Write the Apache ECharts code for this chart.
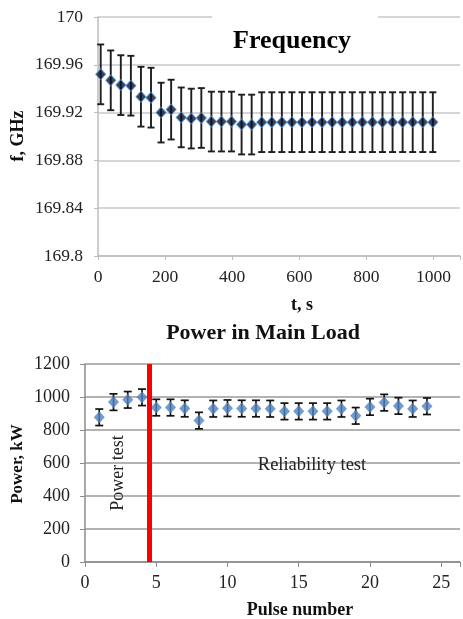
<!DOCTYPE html>
<html>
<head>
<meta charset="utf-8">
<script src="https://cdn.jsdelivr.net/npm/echarts@6/dist/echarts.min.js"></script>
<style>
html,body{margin:0;padding:0;background:#fff;}
#c{width:463px;height:619px;}
</style>
</head>
<body>
<div id="c"></div>
<script>
// ---- Frequency chart data ----
var times = [8,38,68,98,128,158,188,218,248,278,308,338,368,398,428,458,488,518,548,578,608,638,668,698,728,758,788,818,848,878,908,938,968,998];
var freq = [169.952,169.947,169.943,169.9425,169.9333,169.9325,169.920,169.9225,169.916,169.915,169.9155,169.9125,169.9125,169.9125,169.910,169.910,169.912,169.912,169.912,169.912,169.912,169.912,169.912,169.912,169.912,169.912,169.912,169.912,169.912,169.912,169.912,169.912,169.912,169.912];
var freqErr = [0.025,0.025,0.025,0.025,0.025,0.025,0.025,0.025,0.025,0.025,0.025,0.025,0.025,0.025,0.025,0.025,0.025,0.025,0.025,0.025,0.025,0.025,0.025,0.025,0.025,0.025,0.025,0.025,0.025,0.025,0.025,0.025,0.025,0.025];
var freqTicks = [169.8,169.84,169.88,169.92,169.96,170];
var timeTicks = [0,200,400,600,800,1000];

// ---- Power chart data ----
var pulses = [1,2,3,4,5,6,7,8,9,10,11,12,13,14,15,16,17,18,19,20,21,22,23,24];
var power = [877,969,983,998,936,936,930,857,929,932,930,930,929,913,913,913,913,929,886,940,966,946,929,944];
var powerErr = [50,50,50,50,50,50,50,50,50,50,50,50,50,50,50,50,50,50,50,50,50,50,50,50];
var powerTicks = [0,200,400,600,800,1000,1200];
var pulseTicks = [0,5,10,15,20,25];
var boundary = 4.5;

var serif = '"Liberation Serif","Times New Roman",serif';

function errData(xs, ys, es) {
  return xs.map(function (x, i) { return [x, ys[i] - es[i], ys[i] + es[i]]; });
}
function errRender(capW, color, lw) {
  return function (params, api) {
    var x = api.value(0), lo = api.value(1), hi = api.value(2);
    var pl = api.coord([x, lo]), ph = api.coord([x, hi]);
    var st = { stroke: color, lineWidth: lw };
    return { type: 'group', children: [
      { type: 'line', shape: { x1: pl[0], y1: pl[1], x2: ph[0], y2: ph[1] }, style: st },
      { type: 'line', shape: { x1: ph[0] - capW / 2, y1: ph[1], x2: ph[0] + capW / 2, y2: ph[1] }, style: st },
      { type: 'line', shape: { x1: pl[0] - capW / 2, y1: pl[1], x2: pl[0] + capW / 2, y2: pl[1] }, style: st }
    ]};
  };
}
function tickFmt(list) {
  return function (v) {
    for (var i = 0; i < list.length; i++) { if (Math.abs(list[i] - v) < 1e-6) return String(list[i]); }
    return '';
  };
}

var chart = echarts.init(document.getElementById('c'), null, { renderer: 'canvas' });
chart.setOption({
  animation: false,
  backgroundColor: '#fff',
  grid: [
    { left: 98, top: 17, width: 365, height: 239, containLabel: false },
    { left: 85, top: 364, width: 378, height: 198, containLabel: false }
  ],
  xAxis: [
    { gridIndex: 0, type: 'value', min: 0, max: 1079, interval: 200,
      axisLine: { show: true, lineStyle: { color: '#bdbdbd', width: 1.5 } },
      axisTick: { show: true, length: 4, lineStyle: { color: '#bdbdbd' } },
      splitLine: { show: false },
      axisLabel: { margin: 12, fontSize: 17.5, fontFamily: serif, color: '#222', formatter: tickFmt(timeTicks) } },
    { gridIndex: 1, type: 'value', min: 0, max: 26.32, interval: 5,
      axisLine: { show: true, lineStyle: { color: '#8c8c8c', width: 1.5 } },
      axisTick: { show: true, length: 5, lineStyle: { color: '#8c8c8c' } },
      splitLine: { show: false },
      axisLabel: { margin: 12, fontSize: 18, fontFamily: serif, color: '#222', formatter: tickFmt(pulseTicks) } }
  ],
  yAxis: [
    { gridIndex: 0, type: 'value', min: 169.8, max: 170, interval: 0.04,
      axisLine: { show: true, lineStyle: { color: '#bdbdbd', width: 1.5 } },
      axisTick: { show: true, length: 4, lineStyle: { color: '#bdbdbd' } },
      splitLine: { show: true, lineStyle: { color: '#c8c8c8', width: 1.5 } },
      axisLabel: { margin: 15, fontSize: 17.5, fontFamily: serif, color: '#222', formatter: tickFmt(freqTicks) } },
    { gridIndex: 1, type: 'value', min: 0, max: 1200, interval: 200,
      axisLine: { show: true, lineStyle: { color: '#8c8c8c', width: 1.5 } },
      axisTick: { show: true, length: 5, lineStyle: { color: '#8c8c8c' } },
      splitLine: { show: true, lineStyle: { color: '#9a9a9a', width: 1.5 } },
      axisLabel: { margin: 15, fontSize: 18, fontFamily: serif, color: '#222', formatter: tickFmt(powerTicks) } }
  ],
  series: [
    { type: 'custom', xAxisIndex: 0, yAxisIndex: 0, z: 1,
      renderItem: errRender(7, '#1e1e1e', 1.9),
      encode: { x: 0, y: [1, 2] },
      data: errData(times, freq, freqErr) },
    { type: 'scatter', xAxisIndex: 0, yAxisIndex: 0, z: 3,
      symbol: 'diamond', symbolSize: [10, 11],
      itemStyle: { color: '#0b1024', borderColor: '#4a8fe0', borderWidth: 1 },
      data: times.map(function (t, i) { return [t, freq[i]]; }) },
    { type: 'custom', xAxisIndex: 1, yAxisIndex: 1, z: 1,
      renderItem: errRender(8, '#111', 1.7),
      encode: { x: 0, y: [1, 2] },
      data: errData(pulses, power, powerErr) },
    { type: 'scatter', xAxisIndex: 1, yAxisIndex: 1, z: 3,
      symbol: 'diamond', symbolSize: [11, 12],
      itemStyle: { color: '#4f81bd' },
      data: pulses.map(function (p, i) { return [p, power[i]]; }),
      markLine: { silent: true, symbol: 'none', z: 5,
        label: { show: false },
        lineStyle: { color: '#ff0000', width: 5, type: 'solid' },
        data: [{ xAxis: boundary }] } }
  ],
  graphic: [
    { type: 'rect', z: 100, shape: { x: 212, y: 8, width: 166, height: 44 }, style: { fill: '#fff' } },
    { type: 'text', z: 101, x: 292, y: 41, style: { text: 'Frequency', font: 'bold 26px ' + serif, fill: '#000', align: 'center', verticalAlign: 'middle' } },
    { type: 'text', z: 101, x: 18, y: 136, rotation: Math.PI / 2, style: { text: 'f, GHz', font: 'bold 18px ' + serif, fill: '#111', align: 'center', verticalAlign: 'middle' } },
    { type: 'text', z: 101, x: 302, y: 305, style: { text: 't, s', font: 'bold 18px ' + serif, fill: '#111', align: 'center', verticalAlign: 'middle' } },
    { type: 'text', z: 101, x: 263, y: 333, style: { text: 'Power in Main Load', font: 'bold 22px ' + serif, fill: '#111', align: 'center', verticalAlign: 'middle' } },
    { type: 'text', z: 101, x: 18, y: 464, rotation: Math.PI / 2, style: { text: 'Power, kW', font: 'bold 17px ' + serif, fill: '#111', align: 'center', verticalAlign: 'middle' } },
    { type: 'text', z: 101, x: 300, y: 610, style: { text: 'Pulse number', font: 'bold 18px ' + serif, fill: '#111', align: 'center', verticalAlign: 'middle' } },
    { type: 'text', z: 101, x: 118, y: 473, rotation: Math.PI / 2, style: { text: 'Power test', font: '18px ' + serif, fill: '#222', align: 'center', verticalAlign: 'middle' } },
    { type: 'text', z: 101, x: 312, y: 465, style: { text: 'Reliability test', font: '18.5px ' + serif, fill: '#222', align: 'center', verticalAlign: 'middle' } }
  ]
});
</script>
</body>
</html>
